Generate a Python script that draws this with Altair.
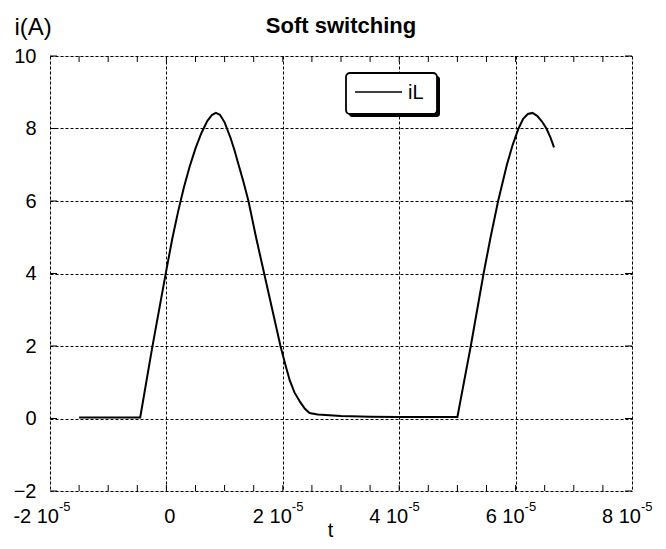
import altair as alt
import pandas as pd

# ---- data (time in units of 1e-5 s, current in A) ----
t_1e5 = [-1.5, -0.45, -0.25, 0.0, 0.1, 0.2, 0.3, 0.4, 0.5, 0.6, 0.7, 0.78, 0.85, 0.92, 1.0, 1.04,
         1.1, 1.17, 1.24, 1.32, 1.41, 1.54, 1.68, 1.82, 1.96, 2.05, 2.12, 2.2, 2.3, 2.38, 2.46,
         2.6, 2.8, 3.0, 3.5, 4.0, 5.0,
         5.23, 5.45, 5.57, 5.7, 5.85, 5.95, 6.05, 6.13, 6.21, 6.29, 6.37, 6.45, 6.53, 6.6, 6.66]
i_amp = [0.03, 0.03, 1.9, 4.1, 4.95, 5.7, 6.37, 6.95, 7.45, 7.87, 8.2, 8.37, 8.43, 8.38, 8.17, 8.0,
         7.75, 7.4, 7.0, 6.55, 6.0, 5.0, 4.0, 3.0, 2.0, 1.45, 1.05, 0.72, 0.45, 0.27, 0.15,
         0.11, 0.09, 0.07, 0.05, 0.04, 0.04,
         2.0, 4.0, 5.0, 6.0, 7.0, 7.55, 8.0, 8.27, 8.4, 8.43, 8.35, 8.2, 8.0, 7.75, 7.48]
series_name = ["iL"] * len(t_1e5)

x_major = [-2, 0, 2, 4, 6, 8]
x_label_main = ["-2 10", "0", "2 10", "4 10", "6 10", "8 10"]
x_label_sup = ["-5", "", "-5", "-5", "-5", "-5"]
x_minor = [-1.5, -1, -0.5, 0, 0.5, 1, 1.5, 2, 2.5, 3, 3.5, 4, 4.5, 5, 5.5, 6, 6.5, 7, 7.5]
y_major = [-2, 0, 2, 4, 6, 8, 10]
legend_names = ["iL"]

W, H = 582, 435
FONT = "Liberation Sans"

df = pd.DataFrame({"t": t_1e5, "i": i_amp, "series": series_name})
df_xl = pd.DataFrame({"t": x_major, "main": x_label_main, "sup": x_label_sup})
df_xt = pd.DataFrame({"t": x_minor})
df_yt = pd.DataFrame({"i": y_major})
df_leg = pd.DataFrame({"series": legend_names})

xs = alt.Scale(domain=[-2, 8], nice=False, zero=False)
ys = alt.Scale(domain=[-2, 10], nice=False, zero=False)

x_axis = alt.Axis(
    values=x_major, grid=True, gridDash=[3, 2], gridColor="black", gridOpacity=1, gridWidth=1,
    labels=False, ticks=False, domain=False,
    title="t", titleFontSize=20, titleFontWeight="normal", titleFont=FONT, titleColor="black",
    titleX=280, titleY=45, titleBaseline="alphabetic", titleAlign="center")
y_axis = alt.Axis(
    values=y_major, grid=True, gridDash=[3, 2], gridColor="black", gridOpacity=1, gridWidth=1,
    ticks=False, domain=False, labelFontSize=20, labelFont=FONT, labelColor="black",
    labelPadding=14,
    title="i(A)", titleAngle=0, titleX=-36, titleY=-22, titleAlign="left",
    titleBaseline="alphabetic", titleFontSize=24, titleFontWeight="normal",
    titleFont=FONT, titleColor="black")

X = alt.X("t:Q", scale=xs, axis=x_axis)
Y = alt.Y("i:Q", scale=ys, axis=y_axis)

line = alt.Chart(df).mark_line(strokeWidth=2, color="black").encode(
    x=X, y=Y, detail="series:N")

xt_bottom = alt.Chart(df_xt).mark_rule(color="black", strokeWidth=1).encode(
    x=X, y=alt.value(H), y2=alt.value(H - 6))
xt_top = alt.Chart(df_xt).mark_rule(color="black", strokeWidth=1).encode(
    x=X, y=alt.value(0), y2=alt.value(6))
yt_left = alt.Chart(df_yt).mark_rule(color="black", strokeWidth=1).encode(
    y=Y, x=alt.value(0), x2=alt.value(7))
yt_right = alt.Chart(df_yt).mark_rule(color="black", strokeWidth=1).encode(
    y=Y, x=alt.value(W), x2=alt.value(W - 7))

lab_main = alt.Chart(df_xl).mark_text(align="right", baseline="alphabetic", fontSize=20,
                                      font=FONT, color="black", dx=9).encode(
    x=X, y=alt.value(H + 32), text="main:N")
lab_sup = alt.Chart(df_xl).mark_text(align="left", baseline="alphabetic", fontSize=13,
                                     font=FONT, color="black", dx=9).encode(
    x=X, y=alt.value(H + 20), text="sup:N")

# legend box (drawn as marks: shadow, frame, sample line, label)
leg_shadow = alt.Chart(df_leg).mark_rect(color="black", cornerRadius=3).encode(
    x=alt.value(299), x2=alt.value(390), y=alt.value(20), y2=alt.value(61))
leg_box = alt.Chart(df_leg).mark_rect(fill="white", stroke="black", strokeWidth=1.8,
                                      cornerRadius=4).encode(
    x=alt.value(296), x2=alt.value(387), y=alt.value(17), y2=alt.value(58))
leg_line = alt.Chart(df_leg).mark_rule(color="black", strokeWidth=1.5).encode(
    x=alt.value(305), x2=alt.value(352), y=alt.value(36))
leg_text = alt.Chart(df_leg).mark_text(align="left", baseline="middle", fontSize=20,
                                       font=FONT, color="black").encode(
    x=alt.value(358), y=alt.value(37), text="series:N")

chart = alt.layer(line, xt_bottom, xt_top, yt_left, yt_right, lab_main, lab_sup,
                  leg_shadow, leg_box, leg_line, leg_text).properties(
    width=W, height=H,
    title=alt.TitleParams("Soft switching", fontSize=22, fontWeight="bold", font=FONT,
                          color="black", anchor="middle", offset=0, dy=23),
    autosize=alt.AutoSizeParams(type="none"),
    padding={"left": 42, "top": 48, "right": 24, "bottom": 50},
).configure_view(stroke="black", strokeWidth=1.5).configure(background="white")

chart.save("out.html", embed_options={"renderer": "svg", "actions": False})
